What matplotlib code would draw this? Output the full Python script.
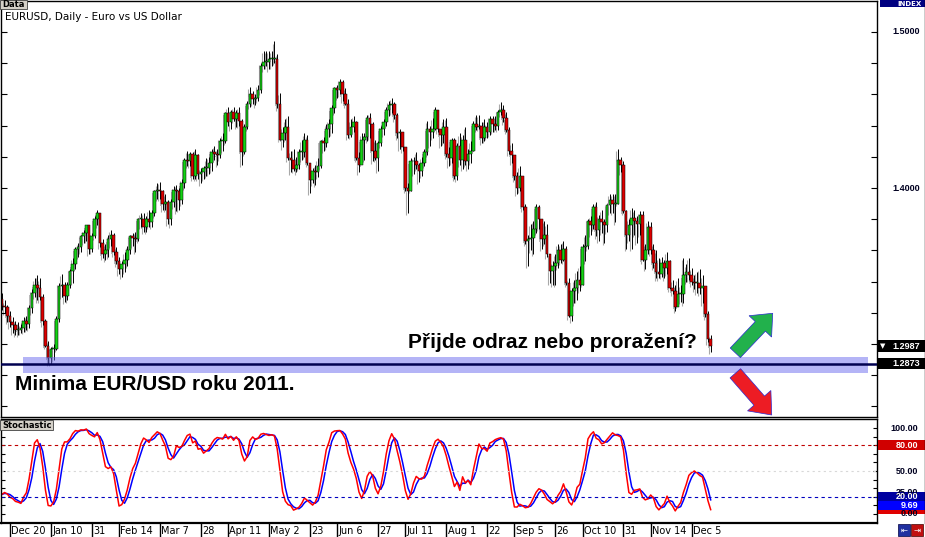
import matplotlib
matplotlib.use("Agg")
import matplotlib.pyplot as plt
import numpy as np
import pandas as pd
from matplotlib.patches import Rectangle, FancyArrow
from matplotlib.lines import Line2D
from matplotlib.transforms import blended_transform_factory

# EURUSD daily bars, 15 Dec 2010 .. 14 Dec 2011 (open = previous close)
start_date = "2010-12-15"
first_open = 1.3290
closes = [
    1.3245, 1.3235, 1.3180,
    1.3140, 1.3120, 1.3090, 1.3090, 1.3100,
    1.3150, 1.3130, 1.3230, 1.3330, 1.3380,
    1.3360, 1.3300, 1.3150, 1.2990, 1.2910,
    1.2970, 1.2970, 1.3160, 1.3370, 1.3380,
    1.3310, 1.3380, 1.3470, 1.3510, 1.3610,
    1.3620, 1.3690, 1.3710, 1.3760, 1.3610,
    1.3690, 1.3800, 1.3840, 1.3650, 1.3580,
    1.3600, 1.3670, 1.3700, 1.3590, 1.3530,
    1.3480, 1.3510, 1.3540, 1.3600, 1.3690,
    1.3680, 1.3670, 1.3800, 1.3800, 1.3750,
    1.3800, 1.3780, 1.3840, 1.3980, 1.3990,
    1.3980, 1.3900, 1.3910, 1.3800, 1.3910,
    1.3990, 1.3980, 1.3920, 1.4030, 1.4180,
    1.4170, 1.4220, 1.4080, 1.4210, 1.4090,
    1.4100, 1.4130, 1.4130, 1.4160, 1.4230,
    1.4220, 1.4210, 1.4300, 1.4300, 1.4480,
    1.4420, 1.4490, 1.4440, 1.4480, 1.4430,
    1.4230, 1.4390, 1.4540, 1.4600, 1.4570,
    1.4580, 1.4630, 1.4780, 1.4810, 1.4810,
    1.4830, 1.4830, 1.4830, 1.4540, 1.4310,
    1.4350, 1.4390, 1.4190, 1.4180, 1.4120,
    1.4150, 1.4230, 1.4230, 1.4310, 1.4160,
    1.4050, 1.4110, 1.4100, 1.4140, 1.4300,
    1.4290, 1.4380, 1.4410, 1.4510, 1.4640,
    1.4630, 1.4680, 1.4600, 1.4540, 1.4340,
    1.4390, 1.4420, 1.4190, 1.4150, 1.4310,
    1.4330, 1.4450, 1.4410, 1.4240, 1.4190,
    1.4290, 1.4380, 1.4420, 1.4500, 1.4530,
    1.4540, 1.4470, 1.4350, 1.4360, 1.4260,
    1.4000, 1.3980, 1.4170, 1.4170, 1.4150,
    1.4110, 1.4160, 1.4230, 1.4380, 1.4360,
    1.4380, 1.4500, 1.4380, 1.4340, 1.4390,
    1.4220, 1.4190, 1.4310, 1.4080, 1.4270,
    1.4180, 1.4310, 1.4170, 1.4220, 1.4240,
    1.4410, 1.4390, 1.4400, 1.4320, 1.4390,
    1.4360, 1.4440, 1.4410, 1.4400, 1.4490,
    1.4500, 1.4450, 1.4370, 1.4240, 1.4210,
    1.4080, 1.4000, 1.4080, 1.3880, 1.3660,
    1.3670, 1.3680, 1.3740, 1.3880, 1.3800,
    1.3670, 1.3700, 1.3580, 1.3470, 1.3500,
    1.3520, 1.3600, 1.3540, 1.3610, 1.3390,
    1.3180, 1.3340, 1.3360, 1.3410, 1.3380,
    1.3620, 1.3630, 1.3790, 1.3760, 1.3880,
    1.3730, 1.3800, 1.3780, 1.3760, 1.3890,
    1.3920, 1.3900, 1.3900, 1.4180, 1.4150,
    1.3850, 1.3700, 1.3760, 1.3810, 1.3790,
    1.3770, 1.3830, 1.3540, 1.3600, 1.3750,
    1.3600, 1.3520, 1.3460, 1.3450, 1.3520,
    1.3490, 1.3530, 1.3360, 1.3340, 1.3240,
    1.3320, 1.3320, 1.3440, 1.3460, 1.3440,
    1.3400, 1.3390, 1.3390, 1.3360, 1.3370,
    1.3190, 1.3030, 1.2987,
]
highs = [
    1.3330, 1.3280, 1.3250,
    1.3210, 1.3170, 1.3150, 1.3140, 1.3130,
    1.3170, 1.3180, 1.3250, 1.3350, 1.3420,
    1.3440, 1.3420, 1.3320, 1.3160, 1.3020,
    1.2980, 1.3000, 1.3180, 1.3390, 1.3450,
    1.3400, 1.3400, 1.3480, 1.3550, 1.3620,
    1.3650, 1.3700, 1.3730, 1.3760, 1.3740,
    1.3710, 1.3820, 1.3860, 1.3840, 1.3670,
    1.3640, 1.3700, 1.3730, 1.3710, 1.3620,
    1.3560, 1.3530, 1.3590, 1.3630, 1.3700,
    1.3710, 1.3720, 1.3810, 1.3840, 1.3840,
    1.3820, 1.3860, 1.3860, 1.3990, 1.4030,
    1.4040, 1.3990, 1.3960, 1.3920, 1.3930,
    1.4010, 1.4020, 1.4000, 1.4060, 1.4190,
    1.4240, 1.4230, 1.4230, 1.4250, 1.4220,
    1.4130, 1.4140, 1.4190, 1.4200, 1.4250,
    1.4270, 1.4250, 1.4320, 1.4350, 1.4490,
    1.4520, 1.4500, 1.4520, 1.4500, 1.4520,
    1.4440, 1.4410, 1.4560, 1.4650, 1.4620,
    1.4600, 1.4660, 1.4800, 1.4880, 1.4880,
    1.4880, 1.4880, 1.4940, 1.4860, 1.4610,
    1.4390, 1.4440, 1.4460, 1.4240, 1.4250,
    1.4200, 1.4250, 1.4310, 1.4350, 1.4340,
    1.4150, 1.4130, 1.4150, 1.4190, 1.4310,
    1.4330, 1.4410, 1.4440, 1.4530, 1.4650,
    1.4660, 1.4700, 1.4690, 1.4640, 1.4570,
    1.4440, 1.4460, 1.4430, 1.4230, 1.4350,
    1.4350, 1.4470, 1.4480, 1.4420, 1.4310,
    1.4300, 1.4400, 1.4440, 1.4520, 1.4560,
    1.4580, 1.4550, 1.4480, 1.4380, 1.4360,
    1.4240, 1.4030, 1.4190, 1.4200, 1.4230,
    1.4160, 1.4200, 1.4250, 1.4430, 1.4400,
    1.4450, 1.4520, 1.4500, 1.4380, 1.4440,
    1.4450, 1.4260, 1.4320, 1.4320, 1.4290,
    1.4350, 1.4340, 1.4390, 1.4250, 1.4300,
    1.4430, 1.4470, 1.4470, 1.4420, 1.4440,
    1.4420, 1.4460, 1.4460, 1.4460, 1.4500,
    1.4550, 1.4530, 1.4490, 1.4390, 1.4290,
    1.4200, 1.4100, 1.4140, 1.4080, 1.3900,
    1.3700, 1.3770, 1.3790, 1.3900, 1.3890,
    1.3790, 1.3790, 1.3770, 1.3580, 1.3530,
    1.3580, 1.3640, 1.3640, 1.3660, 1.3630,
    1.3420, 1.3360, 1.3410, 1.3470, 1.3500,
    1.3640, 1.3700, 1.3800, 1.3820, 1.3900,
    1.3910, 1.3830, 1.3860, 1.3800, 1.3900,
    1.3960, 1.3960, 1.3960, 1.4250, 1.4200,
    1.4170, 1.3860, 1.3800, 1.3870, 1.3860,
    1.3820, 1.3850, 1.3850, 1.3640, 1.3790,
    1.3780, 1.3640, 1.3600, 1.3550, 1.3560,
    1.3540, 1.3590, 1.3540, 1.3410, 1.3380,
    1.3420, 1.3380, 1.3550, 1.3510, 1.3550,
    1.3490, 1.3440, 1.3460, 1.3480, 1.3440,
    1.3360, 1.3210, 1.3060,
]
lows = [
    1.3220, 1.3200, 1.3140,
    1.3110, 1.3070, 1.3060, 1.3060, 1.3070,
    1.3080, 1.3090, 1.3100, 1.3200, 1.3300,
    1.3280, 1.3280, 1.3120, 1.2980, 1.2870,
    1.2870, 1.2900, 1.2960, 1.3140, 1.3300,
    1.3270, 1.3280, 1.3360, 1.3390, 1.3480,
    1.3560, 1.3590, 1.3650, 1.3660, 1.3580,
    1.3590, 1.3680, 1.3760, 1.3620, 1.3550,
    1.3540, 1.3560, 1.3630, 1.3570, 1.3510,
    1.3450, 1.3430, 1.3460, 1.3500, 1.3580,
    1.3630, 1.3590, 1.3660, 1.3750, 1.3720,
    1.3720, 1.3750, 1.3750, 1.3820, 1.3930,
    1.3930, 1.3860, 1.3860, 1.3770, 1.3760,
    1.3880, 1.3850, 1.3860, 1.3900, 1.4000,
    1.4140, 1.4140, 1.4060, 1.4060, 1.4060,
    1.4030, 1.4060, 1.4080, 1.4090, 1.4110,
    1.4180, 1.4150, 1.4190, 1.4240, 1.4290,
    1.4400, 1.4380, 1.4430, 1.4390, 1.4400,
    1.4150, 1.4220, 1.4380, 1.4520, 1.4540,
    1.4530, 1.4560, 1.4610, 1.4760, 1.4780,
    1.4760, 1.4780, 1.4800, 1.4510, 1.4310,
    1.4260, 1.4310, 1.4180, 1.4100, 1.4110,
    1.4100, 1.4120, 1.4180, 1.4200, 1.4150,
    1.3970, 1.4030, 1.4020, 1.4070, 1.4130,
    1.4240, 1.4260, 1.4330, 1.4350, 1.4480,
    1.4580, 1.4600, 1.4560, 1.4530, 1.4320,
    1.4330, 1.4360, 1.4180, 1.4100, 1.4160,
    1.4180, 1.4300, 1.4320, 1.4170, 1.4180,
    1.4110, 1.4270, 1.4340, 1.4400, 1.4460,
    1.4480, 1.4440, 1.4320, 1.4250, 1.4240,
    1.3980, 1.3840, 1.3980, 1.4090, 1.4120,
    1.4040, 1.4080, 1.4140, 1.4210, 1.4270,
    1.4320, 1.4370, 1.4360, 1.4270, 1.4290,
    1.4200, 1.4140, 1.4160, 1.4060, 1.4050,
    1.4150, 1.4120, 1.4150, 1.4120, 1.4160,
    1.4240, 1.4370, 1.4380, 1.4290, 1.4300,
    1.4320, 1.4340, 1.4360, 1.4370, 1.4370,
    1.4470, 1.4420, 1.4360, 1.4220, 1.4160,
    1.4050, 1.3960, 1.3980, 1.3860, 1.3640,
    1.3500, 1.3600, 1.3580, 1.3710, 1.3740,
    1.3610, 1.3640, 1.3560, 1.3390, 1.3380,
    1.3380, 1.3490, 1.3520, 1.3530, 1.3380,
    1.3170, 1.3150, 1.3260, 1.3280, 1.3340,
    1.3380, 1.3530, 1.3610, 1.3700, 1.3740,
    1.3690, 1.3660, 1.3710, 1.3650, 1.3720,
    1.3840, 1.3840, 1.3780, 1.3900, 1.4100,
    1.3840, 1.3610, 1.3660, 1.3610, 1.3700,
    1.3650, 1.3700, 1.3530, 1.3480, 1.3580,
    1.3580, 1.3490, 1.3420, 1.3420, 1.3430,
    1.3420, 1.3450, 1.3350, 1.3320, 1.3210,
    1.3300, 1.3270, 1.3260, 1.3400, 1.3410,
    1.3380, 1.3350, 1.3330, 1.3320, 1.3260,
    1.3170, 1.3010, 1.2950,
]

support_level = 1.2873
stoch_label = 9.69
tick_dates = ["2010-12-20", "2011-01-10", "2011-01-31", "2011-02-14", "2011-03-07",
              "2011-03-28", "2011-04-11", "2011-05-02", "2011-05-23", "2011-06-06",
              "2011-06-27", "2011-07-11", "2011-08-01", "2011-08-22", "2011-09-05",
              "2011-09-26", "2011-10-10", "2011-10-31", "2011-11-14", "2011-12-05"]
tick_labels = ["Dec 20", "Jan 10", "31", "Feb 14", "Mar 7", "28", "Apr 11", "May 2",
               "23", "Jun 6", "27", "Jul 11", "Aug 1", "22", "Sep 5", "26", "Oct 10",
               "31", "Nov 14", "Dec 5"]

closes = np.array(closes)
highs = np.array(highs)
lows = np.array(lows)
n = len(closes)
dates = pd.bdate_range(start_date, periods=n)
x = np.arange(n)
opens = np.r_[first_open, closes[:-1]]

# stochastic 14,3,3
hh = pd.Series(highs).rolling(14, min_periods=1).max()
ll = pd.Series(lows).rolling(14, min_periods=1).min()
cs = pd.Series(closes)
k_line = 100 * (cs - ll).rolling(3, min_periods=1).sum() / (hh - ll).rolling(3, min_periods=1).sum()
d_line = k_line.rolling(3, min_periods=1).mean()

W, H = 925, 537
fig = plt.figure(figsize=(W / 100, H / 100), dpi=100)


def px_box(left, top, right, bottom):
    return [left / W, 1 - bottom / H, (right - left) / W, (bottom - top) / H]


ax = fig.add_axes(px_box(1, 1, 877, 417))
ax_st = fig.add_axes(px_box(1, 419, 877, 523))
ov = fig.add_axes([0, 0, 1, 1], zorder=5)
ov.set_xlim(0, W)
ov.set_ylim(H, 0)
ov.axis("off")

x_lim = (-0.3, 321.0)

# candles: grey drop shadow, then black wicks, then coloured bodies on top
body_lo = np.minimum(opens, closes)
body_h = np.maximum(np.abs(closes - opens), 0.0006)
up = closes >= opens
ax.vlines(x - 0.6, lows - 0.0014, highs - 0.0014, color="#a8a8a8", lw=0.8, zorder=1)
ax.bar(x - 0.6, body_h, bottom=body_lo - 0.0014, width=0.5, color="#b8b8b8", zorder=1.1)
ax.vlines(x, lows, highs, color="black", lw=0.7, zorder=2)
ax.bar(x, body_h, bottom=body_lo, width=0.95, zorder=2.5,
       color=np.where(up, "#14d214", "#dc0000"), edgecolor="black", linewidth=0.35)

# support zone
ax.add_patch(Rectangle((7.8, 1.2814), 310, 0.0103, facecolor="#6a6aee", alpha=0.5,
                       edgecolor="none", zorder=3))
ax.axhline(support_level, color="#000050", lw=1.8, zorder=4)

ax.set_xlim(*x_lim)
ax.set_ylim(1.25321, 1.51987)
ax.set_xticks([])
ax.set_yticks(np.arange(1.26, 1.52, 0.02))
ax.tick_params(axis="y", left=True, right=True, direction="in", length=4,
               labelleft=False, labelright=False)
for s in ax.spines.values():
    s.set_linewidth(1)

# stochastic panel
ax_st.plot(x, d_line, color="#0000ff", lw=1.1)
ax_st.plot(x, k_line, color="#ff0000", lw=1.1)
ax_st.axhline(80, color="#c00000", lw=0.8, ls=(0, (3, 3)))
ax_st.axhline(20, color="#0000c0", lw=0.8, ls=(0, (3, 3)))
ax_st.axhline(50, color="#d8d8d8", lw=0.8, ls=(0, (2, 3)))
ax_st.set_xlim(*x_lim)
ax_st.set_ylim(-10.47, 110.5)
ax_st.set_xticks([])
ax_st.set_yticks(np.arange(0, 101, 10))
ax_st.tick_params(axis="y", left=True, right=True, direction="in", length=3,
                  labelleft=False, labelright=False)
for s in ax_st.spines.values():
    s.set_linewidth(1)
ax_st.spines["bottom"].set_linewidth(1.6)

# x axis labels under the stochastic panel
tr_x = blended_transform_factory(ax_st.transData, ov.transData)
for d, lab in zip(tick_dates, tick_labels):
    xi = dates.get_loc(pd.Timestamp(d))
    ov.add_line(Line2D([xi, xi], [524, 537], color="black", lw=1, transform=tr_x))
    ov.text(xi + 0.5, 531, lab, transform=tr_x, fontsize=7, va="center", ha="left",
            family="DejaVu Sans")

# right price scale
tr_p = blended_transform_factory(ov.transData, ax.transData)
for p in [1.5, 1.4]:
    ov.text(920, p, f"{p:.4f}", transform=tr_p, ha="right", va="center",
            fontsize=6.5, weight="bold", family="Liberation Sans", color="#000020")
for val, txt, mark in [(closes[-1], f"{closes[-1]:.4f}", True),
                       (support_level, f"{support_level:.4f}", False)]:
    ov.add_patch(Rectangle((878, val - 0.0036), 47, 0.0072, transform=tr_p,
                           facecolor="black", edgecolor="none", clip_on=False))
    ov.text(920, val, txt, transform=tr_p, ha="right", va="center", fontsize=6.5,
            weight="bold", family="Liberation Sans", color="white")
    if mark:
        ov.text(880, val, "\u25bc", transform=tr_p, ha="left", va="center",
                fontsize=5, color="white")

# right stochastic scale (the level boxes partly cover 25.00 and 0.00, as in MT4)
tr_s = blended_transform_factory(ov.transData, ax_st.transData)
for v in [100, 50, 25, 0]:
    ov.text(918, v, f"{v:.2f}", transform=tr_s, ha="right", va="center",
            fontsize=6.5, weight="bold", family="Liberation Sans", color="#000020")
for v, txt, fc in [(80, "80.00", "#d00000"), (20, "20.00", "#0000a0"),
                   (k_line.iloc[-1], "", "#e00000"),
                   (stoch_label, f"{stoch_label:.2f}", "#0000ff")]:
    ov.add_patch(Rectangle((878, v - 5.6), 47, 11.2, transform=tr_s,
                           facecolor=fc, edgecolor="none", clip_on=False))
    if txt:
        ov.text(918, v, txt, transform=tr_s, ha="right", va="center", fontsize=6.5,
                weight="bold", family="Liberation Sans", color="white")

# header boxes and titles
ov.add_patch(Rectangle((0, 0), 27, 9, facecolor="#d4d0c8", edgecolor="#404040", lw=0.6))
ov.text(2, 4.8, "Data", fontsize=6, weight="bold", va="center", family="DejaVu Sans")
ov.add_patch(Rectangle((0, 420), 53, 10, facecolor="#d4d0c8", edgecolor="#404040", lw=0.6))
ov.text(2, 425.2, "Stochastic", fontsize=6, weight="bold", va="center", family="DejaVu Sans")
ov.add_patch(Rectangle((880, 0), 45, 7, facecolor="#000080", edgecolor="none"))
ov.text(922, 3.8, "INDEX", fontsize=5, weight="bold", color="white", ha="right",
        va="center", family="DejaVu Sans")
ov.text(5, 17, "EURUSD, Daily - Euro vs US Dollar", fontsize=7.5, va="center",
        family="DejaVu Sans")
ov.add_line(Line2D([924.5, 924.5], [0, 523], color="black", lw=1))

# annotations
ov.text(15, 390, "Minima EUR/USD roku 2011.", fontsize=15, weight="bold",
        family="Liberation Sans", va="baseline")
ov.text(408, 348, "P\u0159ijde odraz nebo prora\u017een\u00ed?", fontsize=15,
        weight="bold", family="Liberation Sans", va="baseline")
ov.add_patch(FancyArrow(735.3, 352.8, 37.4, -39.5, width=14, head_width=31,
                        head_length=18, length_includes_head=True,
                        facecolor="#22b14c", edgecolor="#2a2ad0", lw=0.5))
ov.add_patch(FancyArrow(735.3, 373.3, 36.4, 41.7, width=14, head_width=31,
                        head_length=19, length_includes_head=True,
                        facecolor="#ed1c24", edgecolor="#2a2ad0", lw=0.5))

# bottom-right scroll buttons
ov.add_patch(Rectangle((898, 524), 12, 12, facecolor="#2030a0", edgecolor="#000040", lw=0.5))
ov.add_patch(Rectangle((911, 524), 12, 12, facecolor="#c01010", edgecolor="#400000", lw=0.5))
ov.text(904, 530, "\u21e4", color="white", fontsize=6, ha="center", va="center")
ov.text(917, 530, "\u21e5", color="white", fontsize=6, ha="center", va="center")

fig.savefig("out.png", dpi=100)
